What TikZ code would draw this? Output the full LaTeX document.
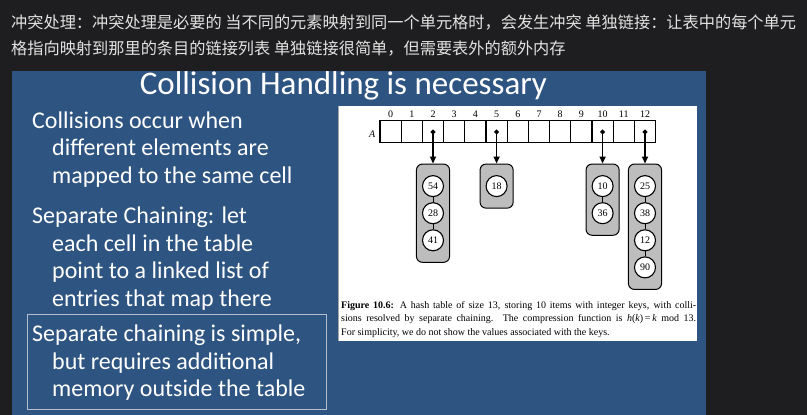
\documentclass[tikz,border=0pt]{standalone}
\usepackage{fontspec}
\setmainfont{Carlito}
\newfontfamily\cjkfont{Noto Sans CJK SC}
\newfontfamily\figfont{Liberation Serif}
\usetikzlibrary{positioning,arrows.meta,fit,backgrounds}
\definecolor{pagebg}{HTML}{1E1E20}
\definecolor{slideblue}{HTML}{2E5482}
\definecolor{noteink}{HTML}{E2E2E2}
\definecolor{chaingray}{HTML}{BDBDBD}
\definecolor{framegray}{HTML}{B4BECC}
\newcommand{\ind}{\hspace*{20pt}}

\begin{document}
\begin{tikzpicture}[x=1pt, y=-1pt,
  bullet/.style={anchor=north west, inner sep=0pt, align=left, text=white,
    font=\fontsize{24}{27.5}\selectfont},
  cell/.style={draw, line width=1.1pt, minimum width=21.2pt,
    minimum height=22pt, inner sep=0pt},
  idx/.style={inner sep=0pt, font=\figfont\fontsize{10}{10}\selectfont},
  key/.style={circle, draw, line width=1.1pt, fill=white, minimum size=21pt,
    inner sep=0pt, font=\figfont\fontsize{10}{10}\selectfont},
  chain/.style={draw, line width=1pt, fill=chaingray, rounded corners=6pt,
    inner xsep=5.5pt, inner ysep=11pt},
  ptr/.style={line width=1.6pt, shorten <=-2pt,
    {Circle[length=4.5pt]}-{Triangle[length=7pt,width=6pt]}},
  link/.style={line width=1pt},
  ]
  \useasboundingbox (0,0) rectangle (807,415);

  % Page, slide and figure grounds.
  \begin{scope}[on background layer]
    \fill[pagebg] (0,0) rectangle (807,415);
    \fill[slideblue] (12,71) rectangle (706,415);
    \fill[white] (338,106) rectangle (697,341);
    \draw[gray!70, line width=1pt] (338.5,106) -- (338.5,341);
  \end{scope}

  % The note above the slide.
  \node[anchor=base west, inner sep=0pt, align=left, text=noteink,
    font=\cjkfont\fontsize{16.2}{26}\selectfont] (note) at (11,54)
    {冲突处理：冲突处理是必要的 当不同的元素映射到同一个单元格时，会发生冲突 单独链接：让表中的每个单元\\
     格指向映射到那里的条目的链接列表 单独链接很简单，但需要表外的额外内存};

  % The slide.
  \node[anchor=base, inner sep=0pt, text=white,
    font=\fontsize{33}{33}\selectfont] (title) at (343.5,94)
    {Collision Handling is necessary};

  \node[bullet] (p1) at (32,111.5) {Collisions occur when\\
    \ind different elements are\\ \ind mapped to the same cell};
  \node[bullet] (p2) at (32,207) {Separate Chaining: let\\
    \ind each cell in the table\\ \ind point to a linked list of\\
    \ind entries that map there};
  \node[bullet] (p3) at (32,325) {Separate chaining is simple,\\
    \ind but requires additional\\ \ind memory outside the table};
  \draw[framegray, line width=0.8pt] (27,314) rectangle (326,409);

  % The figure.
  \foreach \i in {0,...,12} {
    \node[cell] (c\i) at ({390.6+21.2*\i},131.7) {};
    \node[idx, above=2pt of c\i] {\i};
  }
  \node[inner sep=0pt, left=4pt of c0, yshift=-2pt,
    font=\figfont\itshape\fontsize{10}{10}\selectfont] (arr) {A};

  % Chains.
  \node[key, below=31.8pt of c2] (k54) {54};
  \node[key, below=5pt of k54] (k28) {28};
  \node[key, below=5pt of k28] (k41) {41};
  \node[key, below=31.8pt of c5] (k18) {18};
  \node[key, below=31.8pt of c10] (k10) {10};
  \node[key, below=5pt of k10] (k36) {36};
  \node[key, below=31.8pt of c12] (k25) {25};
  \node[key, below=5pt of k25] (k38) {38};
  \node[key, below=5pt of k38] (k12) {12};
  \node[key, below=5pt of k12] (k90) {90};

  \begin{scope}[on background layer]
    \node[chain, fit=(k54)(k41)] (b2) {};
    \node[chain, fit=(k18)] (b5) {};
    \node[chain, fit=(k10)(k36)] (b10) {};
    \node[chain, fit=(k25)(k90)] (b12) {};
  \end{scope}

  \draw[link] (k54) -- (k28);
  \draw[link] (k28) -- (k41);
  \draw[link] (k10) -- (k36);
  \draw[link] (k25) -- (k38);
  \draw[link] (k38) -- (k12);
  \draw[link] (k12) -- (k90);

  \draw[ptr] (c2.center) -- (b2.north);
  \draw[ptr] (c5.center) -- (b5.north);
  \draw[ptr] (c10.center) -- (b10.north);
  \draw[ptr] (c12.center) -- (b12.north);

  \node[anchor=north west, inner sep=0pt, text width=355pt, align=justify,
    font=\figfont\fontsize{10}{13.5}\selectfont] (cap) at (341,301)
    {\textbf{Figure 10.6:} A hash table of size 13, storing 10 items with
     integer keys, with colli-\linebreak sions resolved by separate chaining.
     The compression function is \textit{h}(\textit{k})\,=\,\textit{k} mod 13.\linebreak
     For simplicity, we do not show the values associated with the keys.};
\end{tikzpicture}
\end{document}
